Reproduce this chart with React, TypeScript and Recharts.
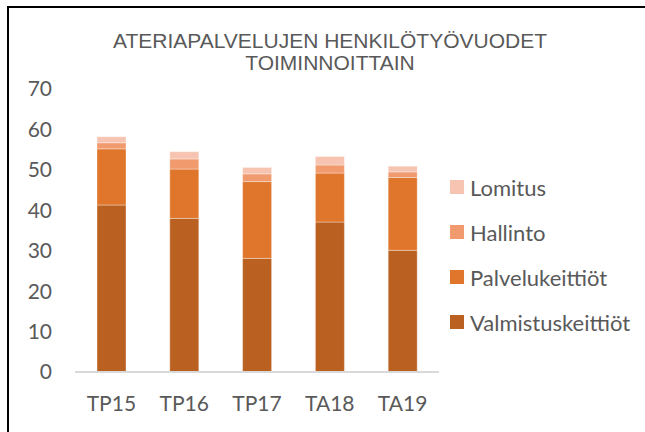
import React from 'react';
import { BarChart, Bar, XAxis, YAxis } from 'recharts';

const periods = ['TP15', 'TP16', 'TP17', 'TA18', 'TA19'];
const valmistus = [41.3, 38.0, 28.1, 37.1, 30.1];
const palvelu = [13.9, 12.2, 19.0, 12.1, 18.0];
const hallinto = [1.5, 2.5, 1.9, 2.0, 1.4];
const lomitus = [1.5, 1.8, 1.6, 2.1, 1.4];
const yTicks = [0, 10, 20, 30, 40, 50, 60, 70];

const series = [
  { key: 'valmistus', name: 'Valmistuskeittiöt', color: '#BA6122' },
  { key: 'palvelu', name: 'Palvelukeittiöt', color: '#DF762B' },
  { key: 'hallinto', name: 'Hallinto', color: '#F09A6E' },
  { key: 'lomitus', name: 'Lomitus', color: '#F6C4B0' },
];

const data = periods.map((p, i) => ({
  period: p,
  valmistus: valmistus[i],
  palvelu: palvelu[i],
  hallinto: hallinto[i],
  lomitus: lomitus[i],
}));

const labelFont = "Lato, 'Open Sans', sans-serif";
const textGray = '#595959';

export default function App() {
  return (
    <div
      style={{
        position: 'absolute',
        left: 0,
        top: 0,
        width: 645,
        height: 432,
        background: '#fff',
        overflow: 'hidden',
      }}
    >
      <div
        style={{
          position: 'absolute',
          left: 7,
          top: 6,
          width: 640,
          height: 430,
          borderTop: '2px solid #000',
          borderLeft: '2px solid #000',
        }}
      />
      <div
        style={{
          position: 'absolute',
          left: 0,
          top: 30,
          width: 660,
          textAlign: 'center',
          fontFamily: "'Liberation Sans', Arial, sans-serif",
          fontSize: 21,
          lineHeight: '22px',
          color: textGray,
        }}
      >
        ATERIAPALVELUJEN HENKILÖTYÖVUODET
        <br />
        TOIMINNOITTAIN
      </div>
      <div style={{ position: 'absolute', left: 0, top: 0 }}>
        <BarChart
          width={645}
          height={432}
          data={data}
          margin={{ top: 89, right: 206, bottom: 30, left: 0 }}
          barSize={29}
        >
          <XAxis
            dataKey="period"
            height={30}
            axisLine={{ stroke: '#D9D9D9', strokeWidth: 2 }}
            tickLine={false}
            tickMargin={18}
            tick={{ fill: textGray, fontSize: 21, fontFamily: labelFont }}
          />
          <YAxis
            width={75}
            domain={[0, 70]}
            ticks={yTicks}
            axisLine={false}
            tickLine={false}
            tickMargin={17}
            tick={{ fill: textGray, fontSize: 21, fontFamily: labelFont }}
          />
          {series.map((s) => (
            <Bar
              key={s.key}
              dataKey={s.key}
              name={s.name}
              stackId="a"
              fill={s.color}
              stroke="#ffffff"
              strokeOpacity={0.35}
              strokeWidth={1}
              isAnimationActive={false}
            />
          ))}
        </BarChart>
      </div>
      {series
        .slice()
        .reverse()
        .map((s, i) => (
          <div
            key={s.key}
            style={{
              position: 'absolute',
              left: 450,
              top: 175 + i * 45,
              height: 24,
              display: 'flex',
              alignItems: 'center',
              fontFamily: labelFont,
              fontSize: 22,
              color: textGray,
              whiteSpace: 'nowrap',
            }}
          >
            <span
              style={{
                display: 'inline-block',
                width: 14,
                height: 14,
                background: s.color,
                marginRight: 6,
              }}
            />
            {s.name}
          </div>
        ))}
    </div>
  );
}
